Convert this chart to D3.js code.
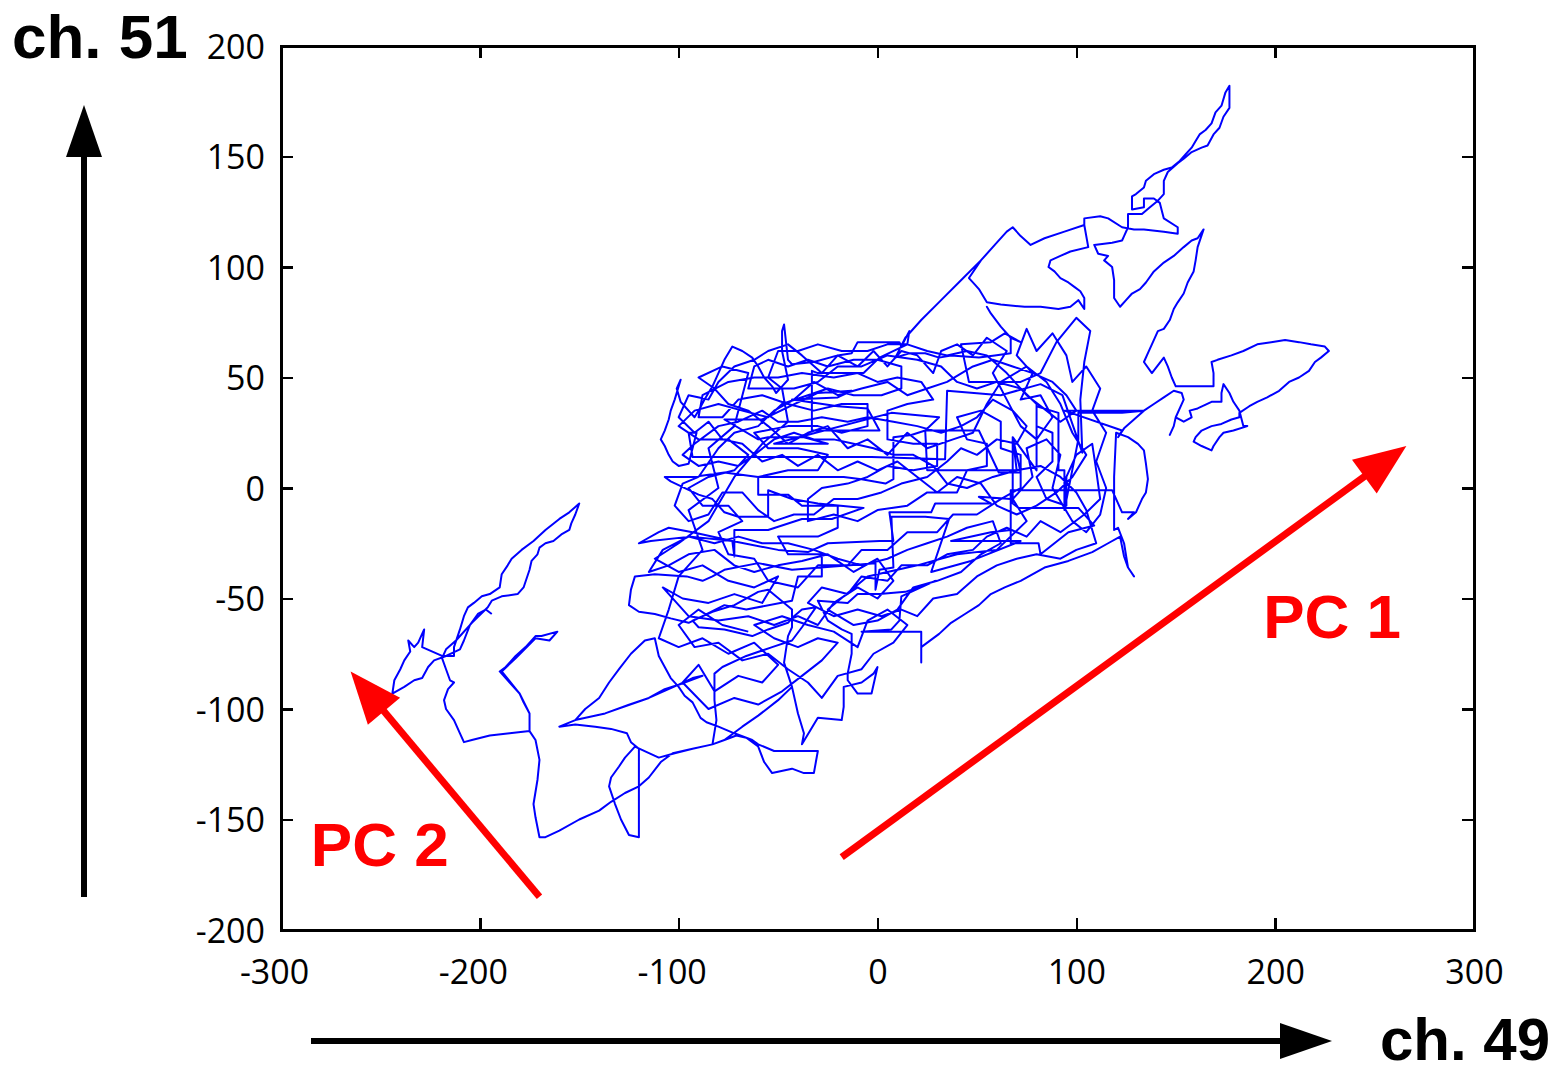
<!DOCTYPE html>
<html>
<head>
<meta charset="utf-8">
<script src="https://cdn.jsdelivr.net/npm/d3@7"></script>
<style>
  html, body { margin: 0; padding: 0; background: #ffffff; }
  svg { display: block; }
</style>
</head>
<body>
<svg id="chart" width="1567" height="1066"></svg>
<script>
// Axis ticks
const xTicks = [-300, -200, -100, 0, 100, 200, 300];
const yTicks = [-200, -150, -100, -50, 0, 50, 100, 150, 200];

// Channel labels
const xChannel = "ch. 49";
const yChannel = "ch. 51";

// Principal component directions, in channel units (tail -> head), with label anchors
const pcNames = ["PC 1", "PC 2"];
const pcFrom = [[-18, -167], [-170, -185]];
const pcTo = [[266, 19], [-265, -83]];
const pcLabelAt = [[194, -68], [-285, -171]];

// Trajectory of the two channel amplitudes (ch. 49, ch. 51)
const trajectory = [
  [-194,-57],[-197,-55],[-201,-57],[-205,-62],[-208,-69],[-210,-73],[-217,-76],[-223,-78],[-226,-81],[-229,-86],
  [-233,-87],[-238,-90],[-244,-93],[-243,-87],[-240,-82],[-238,-78],[-235,-74],[-236,-69],[-233,-72],[-231,-70],
  [-228,-64],[-229,-72],[-219,-76],[-213,-76],[-213,-72],[-210,-64],[-208,-58],[-206,-54],[-203,-52],[-199,-49],
  [-195,-48],[-190,-45],[-189,-39],[-186,-35],[-184,-32],[-179,-28],[-173,-24],[-167,-19],[-160,-14],[-155,-11],
  [-150,-7],[-152,-12],[-154,-16],[-155,-19],[-159,-21],[-163,-24],[-167,-25],[-170,-27],[-171,-30],[-174,-33],
  [-175,-37],[-178,-45],[-181,-48],[-189,-49],[-194,-51],[-196,-54],[-204,-61],[-212,-69],[-217,-73],[-219,-77],
  [-217,-82],[-215,-87],[-213,-88],[-216,-91],[-218,-96],[-217,-100],[-213,-105],[-210,-111],[-208,-115],[-204,-114],
  [-195,-112],[-185,-111],[-175,-110],[-175,-102],[-178,-97],[-180,-93],[-185,-88],[-190,-83],[-187,-81],[-182,-76],
  [-177,-72],[-172,-67],[-169,-67],[-161,-65],[-165,-69],[-172,-68],[-182,-77],[-189,-83],[-180,-93],[-175,-102],
  [-175,-110],
  [-172,-114],[-170,-123],[-171,-132],[-173,-143],[-172,-149],[-170,-158],[-167,-158],[-160,-155],[-150,-150],[-140,-146],
  [-134,-142],[-127,-138],[-120,-135],[-115,-131],[-109,-124],[-103,-120],[-93,-118],[-83,-116],[-77,-114],
  [-68,-108],[-60,-103],[-50,-96],[-43,-90],[-50,-96],[-60,-103],[-68,-108],[-77,-114],
  [-71,-112],[-66,-113],[-60,-117],[-57,-124],[-53,-129],[-43,-127],[-37,-129],[-32,-129],[-31,-124],[-30,-119],
  [-40,-119],[-52,-119],[-60,-116],[-63,-114],[-72,-111],[-80,-108],[-86,-106],[-89,-104],[-93,-97],[-97,-94],
  [-100,-90],[-104,-86],[-107,-81],[-110,-76],[-112,-68],[-117,-69],[-124,-75],[-130,-82],[-135,-88],[-140,-95],
  [-147,-100],[-152,-105],
  [-137,-102],[-125,-98],[-115,-95],[-107,-91],[-100,-89],[-93,-86],[-88,-85],[-100,-89],[-115,-95],[-137,-102],[-152,-105],
  [-160,-108],[-152,-107],[-142,-108],[-134,-109],[-126,-111],[-124,-115],[-120,-118],[-120,-137],[-120,-158],[-125,-157],
  [-129,-150],[-132,-143],[-135,-135],[-134,-131],[-130,-126],[-127,-122],[-122,-117],[-110,-122],[-102,-120],[-93,-118],
  [-83,-116],[-81,-105],[-82,-96],[-82,-84],
  [-78,-81],[-66,-76],[-53,-72],[-43,-69],[-38,-63],[-31,-54],[-38,-55],[-42,-58],[-45,-61],[-55,-64],
  [-63,-67],[-77,-64],[-90,-63],[-93,-60],[-83,-56],[-72,-53],[-60,-47],[-55,-46],[-43,-55],[-43,-63],
  [-45,-67],[-47,-79],[-43,-90],[-40,-102],[-37,-111],[-38,-116],[-30,-104],[-18,-105],[-17,-99],[-17,-90],
  [-8,-88],[-2,-84],[0,-81],[-3,-93],[-10,-93],[-15,-87],[-15,-84],[-13,-75],[-13,-66],[-18,-64],
  [-25,-60],[-30,-51],[-15,-52],[-10,-48],[1,-48],[14,-47],[24,-44],[29,-42],[12,-49],[11,-60],
  [7,-64],[-8,-65],[22,-65],[22,-79],[22,-72],[31,-66],[37,-61],[44,-57],[51,-53],[57,-48],
  [64,-45],[72,-42],[84,-36],[96,-33],[108,-29],[116,-25],[122,-22],[124,-31],[126,-36],[129,-40],
  [126,-36],[124,-25],[121,-18],
  [119,-19],[119,5],[120,25],[126,23],[131,20],[134,17],[135,11],[136,4],[135,-2],[133,-5],
  [130,-11],[126,-14],[129,-11],[123,-11],[118,-1],[94,-1],[67,-1],[67,-17],[67,-25],[81,-25],
  [82,-30],[96,-20],[109,-17],[101,-9],[71,-9],[68,-7],[68,23],[80,8],[80,37],[91,34],
  [91,8],[94,8],[94,-10],[101,22],[101,34],[123,34],[134,35],[94,35],[123,26],[121,23],
  [124,27],[129,31],[134,35],[139,38],[144,41],[149,44],[153,43],[154,40],[150,32],[149,28],
  [147,24],[149,28],[150,32],[154,30],[158,32],[157,35],[161,36],[168,39],[173,39],[173,43],
  [174,47],[177,43],[179,39],[182,35],[184,28],[186,28],[179,26],[174,25],[172,23],[169,19],
  [168,17],[163,19],[159,21],[160,23],[163,26],[168,28],[173,29],[178,31],[182,32],[182,34],
  [187,37],[191,39],[196,41],[202,44],[207,48],[212,50],[217,53],[220,57],[223,59],[227,62],
  [225,64],[218,65],[212,66],[205,67],[198,66],[191,65],[184,62],[178,60],[171,58],[168,57],
  [169,52],[169,48],[169,46],[154,46],[150,46],[148,50],[146,55],[144,59],[138,52],[134,57],
  [136,61],[138,65],[141,71],[144,72],[147,76],[149,81],[151,84],[154,88],[156,93],[159,98],
  [160,103],[161,109],[164,117],[161,113],[158,112],[154,109],[149,105],[144,102],[139,98],[135,93],
  [132,90],[128,88],[125,85],[122,82],
  [119,86],[119,94],[118,100],[114,103],[116,105],[111,106],[109,110],[118,111],[123,112],[124,114],
  [126,118],[126,124],[133,124],[137,127],[141,130],[144,133],[144,139],[146,143],[151,147],[154,149],
  [158,152],[163,154],[166,155],[169,160],[172,163],[174,168],[177,172],[177,182],[175,179],[173,173],
  [170,170],[168,165],[165,162],[162,160],[160,157],[158,154],[155,151],[152,148],[148,145],[144,144],
  [139,142],[135,139],[134,136],[130,133],[128,132],[128,126],[134,127],[134,131],[139,131],[142,129],
  [144,122],[151,118],[151,115],[144,116],[134,117],[129,117],[123,118],[116,122],[112,123],[104,122],
  [104,119],[106,109],[97,107],[92,105],[87,103],[86,100],[89,98],[92,95],[96,93],[99,91],
  [102,89],[104,86],[104,81],[101,85],[97,82],[91,81],[82,82],[74,82],[62,83],[55,84],
  [51,90],[49,92],[46,95],[52,103],[60,111],[65,116],[68,118],[72,114],[77,110],[84,113],
  [94,116],[104,119],[94,116],[84,113],[77,110],[72,114],[68,118],[65,116],[60,111],[52,103],
  [42,94],[32,85],[22,76],[14,68],
  [9,59],[16,61],[24,61],[31,59],[37,60],[51,59],[59,60],[67,61],[67,68],[62,73],
  [57,79],[55,82],[57,79],[62,73],[67,68],[72,66],[64,70],[57,66],[42,65],[46,48],
  [72,48],[82,52],[90,66],[100,77],[107,71],[104,57],[102,40],[103,16],[93,42],[82,47],
  [62,42],[35,44],[34,13],[-3,14],[-23,14],[-60,14],[-77,14],[-93,14],[-95,25],[-91,25],
  [-95,11],[-100,10],[-103,12],[-105,15],[-107,19],[-109,22],[-107,26],[-105,31],[-104,35],[-102,40],
  [-99,49],[-101,45],[-99,39],[-97,37],[-94,34],[-92,32],[-90,35],[-87,40],[-83,46],[-80,52],
  [-77,58],[-73,64],[-68,62],[-63,59],[-60,55],[-57,50],[-53,46],[-51,43],[-48,46],[-45,49],
  [-48,62],[-48,71],[-47,74],[-45,58],[-43,56],[-32,57],[-20,60],[-13,61],[-10,66],[11,66],
  [12,64],[16,71],[15,65],[1,59],[-7,52],[-30,52],[-33,53],[-33,26],[-17,26],[1,26],
  [-5,36],[-20,37],[-43,40],[-20,41],[-13,44],[-30,43],[-58,31],[-77,31],[-60,22],[-55,23],
  [-37,23],[-25,20],[-52,20],[7,34],[31,32],[24,26],[51,26],[61,7],[72,7],[68,23],
  [70,8],[25,8],[24,26],[17,24],[8,23],[8,4],[4,2],[-8,4],[-17,5],[-60,5],
  [-77,7],[-93,5],[-107,5],[-104,3],[-90,-3],[-83,-5],[-77,-11],[-70,-13],[-55,-13],[-55,-1],
  [-43,-5],[-30,-7],[-7,-9],[-23,-14],[-38,-14],[-55,-19],[-72,-19],[-72,-31],[-73,-24],[-93,-20],
  [-105,-18],[-110,-20],[-120,-25],[-114,-24],[-94,-22],[-73,-24],[-50,-28],[-35,-29],[-25,-25],[1,-24],
  [8,-24],[6,-11],[27,-11],[29,-7],[57,-7],[51,-4],[67,-5],[67,-19],[57,-20],[37,-24],
  [72,-24],[47,-33],[27,-38],[36,-14],[24,-13],[7,-13],[8,-36],[1,-37],[-1,-46],[-1,-34],
  [-43,-37],[-60,-34],[-77,-37],[-83,-40],[-88,-42],[-96,-40],[-112,-39],[-122,-40],[-124,-46],[-125,-53],
  [-120,-56],[-112,-57],[-104,-59],[-95,-61],[-88,-58],[-77,-53],[-66,-55],[-43,-51],
  [-40,-40],[-28,-40],[-28,-30],[-45,-30],[-50,-22],[-30,-22],[-20,-18],[-20,-8],[-38,-8],[-45,-3],
  [-60,-3],[-60,5],[-45,8],[-30,8],[-25,15],[-40,18],[-55,18],[-62,25],[-45,28],[-30,28],
  [-18,25],[-5,28],[-5,38],[-18,38],[-32,35],[-45,38],[-58,42],[-70,40],[-78,32],[-90,32],
  [-88,42],[-75,48],[-62,50],[-50,50],[-38,52],[-22,50],[-10,52],[0,48],[10,50],[22,48],
  [28,40],[15,38],[5,35],[5,22],[18,20],[30,20],[30,10],[18,8],[5,10],[-5,5],
  [-15,2],[-28,0],[-35,-5],[-35,-15],[-22,-12],[-10,-15],[0,-10],[15,-8],[25,-2],[40,-2],
  [45,8],[55,10],[55,20],[45,22],[40,32],[52,35],[62,30],[62,18],[72,15],[72,0],
  [62,-5],[50,-12],[38,-12],[30,-20],[15,-20],[5,-28],[-8,-28],[-15,-35],[-30,-35],[-40,-45],
  [-55,-42],[-62,-32],[-75,-30],[-80,-20],[-68,-15],[-75,-8],[-88,-8],[-95,0],[-85,5],[-72,8],
  [-65,15],[-75,22],[-90,22],[-100,28],[-92,35],[-80,38],[-68,35],[-55,32],[-48,38],[-35,42],
  [-25,45],[-12,42],[2,42],[12,45],[12,55],[0,58],[-12,58],[-25,55],[-35,58],[-45,55],
  [-55,58],[-62,55],[-65,45],[-55,45],[-42,45],[-30,48],[-20,55],[-8,55],[5,60],[20,58],
  [32,55],[40,48],[50,45],[60,48],[72,45],[80,38],[80,28],[88,25],[88,12],[80,5],
  [85,-5],[95,-8],[95,5],[100,15],[108,20],[110,8],[112,-5],[104,-12],[92,-20],[82,-15],
  [75,-22],[65,-18],[55,-22],[48,-28],[35,-30],[25,-35],[12,-35],[5,-42],[-8,-40],[-15,-48],
  [-28,-45],[-35,-52],[-22,-58],[-10,-55],[2,-58],[12,-55],[20,-58],[28,-50],[40,-48],[50,-40],
  [60,-35],[70,-32],[80,-30],[92,-32],[100,-28],[110,-25],[105,-10],[100,-2],[92,5],[82,10],
  [70,8],[58,5],[45,0],[35,2],[28,10],[18,15],[8,15],[-2,18],[-12,20],[-22,22],
  [-32,22],[-42,25],[-52,22],[-62,15],[-70,10],[-80,12],[-90,10],[-98,15],[-92,20],[-80,28],
  [-70,30],[-58,35],[-50,30],[-40,30],[-28,32],[-15,30],[-5,32],[8,30],[20,28],[32,25],
  [42,28],[50,32],[58,40],[68,35],[75,28],[70,20],[60,22],[50,15],[42,18],[35,12],
  [25,5],[12,2],[2,-2],[-10,-5],[-22,-5],[-32,-12],[-42,-12],[-52,-15],[-60,-10],[-68,-2],
  [-78,-2],[-85,-12],[-95,-15],[-102,-8],[-98,2],[-90,5],[-80,18],[-72,25],[-60,28],[-52,35],
  [-42,40],[-32,48],[-20,42],[-8,45],[5,48],[15,42],[25,45],[35,48],[48,55],[58,58],
  [68,55],[78,52],[88,48],[95,42],[100,35],[92,30],[85,35],[75,42],[65,52],[55,60],
  [45,62],[35,60],[25,62],[15,65],[5,65],[-5,62],[-18,62],[-30,65],[-40,62],[-50,62],
  [-55,50],[-48,45],
  [-45,30],[-58,20],[-72,5],[-85,-15],[-100,-25],[-112,-32],[-100,-38],[-88,-35],[-75,-42],[-62,-45],
  [-50,-40],[-58,-52],[-72,-48],[-85,-52],[-98,-50],[-108,-45],[-95,-58],[-80,-60],[-65,-58],[-52,-62],
  [-40,-58],[-30,-62],[-22,-52],[-10,-45],[0,-50],[8,-42],[0,-32],[-12,-38],[-25,-30],[-38,-33],
  [-50,-35],[-62,-38],[-72,-35],[-82,-28],[-95,-30],[-105,-35],[-115,-38],[-108,-28],[-95,-22],[-82,-25],
  [-70,-22],[-58,-25],[-45,-25],[-32,-28],[-20,-32],[-8,-35],[5,-32],[15,-28],[25,-25],[35,-22],
  [45,-18],[58,-15],[62,-25],[52,-30],[42,-38],[30,-42],[18,-45],[10,-55],[0,-60],[-12,-62],
  [-25,-55],[-5,-40],[20,-35],[40,-30],[60,-28],[75,-15],[68,-5],[78,5],[75,18],[85,22],
  [92,15],[88,0],[98,-15],[105,-20],[112,-12],[115,0],[110,12],[115,25],[108,35],[112,45],
  [105,55],[98,48],[95,60],[88,70],[80,62],[75,72],[70,60],[78,52],[72,40],[82,42],
  [88,32],[80,22],[72,28],[65,40],[58,52],[65,62],[55,68],[48,60],[40,65],[32,62],
  [28,52],[20,60],[12,62],[5,55],[-2,62],[-10,55],[-20,60],[-28,52],[-38,60],[-45,65],
  [-55,62],[-62,58],[-72,55],[-80,48],[-85,40],[-95,42],[-100,32],[-92,25],[-85,30],[-78,22],
  [-68,20],[-58,12],[-48,15],[-40,10],[-30,15],[-20,8],[-10,12],[0,8],[10,12],[20,5],
  [30,-2],[40,5],[52,2],[60,-8],[70,-12],[80,-8],[90,-2],[98,5],[105,15],[98,25],
  [92,38],[85,48],[75,55],[62,48],[55,38],[48,25],[38,22],[25,18],[15,25],[5,15],
  [-5,22],[-15,18],[-25,28],[-35,25],[-45,20],[-55,28],[-65,35],[-75,38],[-82,45],[-90,50],
  [-78,55],[-65,52],
  [-72,28],[-85,18],[-80,0],[-95,-10],[-88,-28],[-100,-40],[-105,-55],[-110,-68],[-100,-72],[-88,-68],
  [-75,-75],[-62,-70],[-50,-80],
  [-58,-88],[-70,-85],[-82,-92],[-90,-80],[-98,-88],[-85,-100],[-72,-95],[-60,-98],[-48,-92],[-38,-85],
  [-28,-78],[-20,-70],[-30,-68],[-40,-72],[-52,-68],[-62,-62],[-48,-58],[-35,-62],[-22,-65],[-10,-72],
  [-5,-60],[5,-55],[15,-62],[8,-70],[-2,-75],[-8,-82],[-20,-85],[-28,-95],[-35,-88],[-45,-82],
  [-55,-75],[-68,-78],[-80,-70],[-92,-72],[-100,-62],[-90,-55],[-78,-62],[-65,-65]
];

const plotLeft = 281, plotRight = 1474, plotTop = 46, plotBottom = 930;

const svg = d3.select("#chart");

const x = d3.scaleLinear().domain([-300, 300]).range([plotLeft, plotRight]);
const y = d3.scaleLinear().domain([-200, 200]).range([plotBottom, plotTop]);

const tickFont = "'Open Sans', 'DejaVu Sans', sans-serif";
const signed = d => (d < 0 ? "-" + Math.abs(d) : String(d));

// Axes with inward ticks on all four sides; labels only bottom and left
const gBottom = svg.append("g").attr("transform", `translate(0,${plotBottom})`)
  .call(d3.axisBottom(x).tickValues(xTicks).tickSizeInner(-12).tickSizeOuter(0).tickPadding(30)
        .tickFormat(signed));
const gLeft = svg.append("g").attr("transform", `translate(${plotLeft},0)`)
  .call(d3.axisLeft(y).tickValues(yTicks).tickSizeInner(-12).tickSizeOuter(0).tickPadding(16)
        .tickFormat(signed));
const gTop = svg.append("g").attr("transform", `translate(0,${plotTop})`)
  .call(d3.axisTop(x).tickValues(xTicks).tickSizeInner(-12).tickSizeOuter(0).tickFormat(() => ""));
const gRight = svg.append("g").attr("transform", `translate(${plotRight},0)`)
  .call(d3.axisRight(y).tickValues(yTicks).tickSizeInner(-12).tickSizeOuter(0).tickFormat(() => ""));

[gBottom, gLeft, gTop, gRight].forEach(g => {
  g.select(".domain").remove();
  g.selectAll(".tick line").attr("stroke", "#000").attr("stroke-width", 2.5)
    .attr("shape-rendering", "crispEdges");
});
[gTop, gRight].forEach(g => g.selectAll(".tick text").remove());
[gBottom, gLeft].forEach(g => {
  g.selectAll(".tick text")
    .attr("fill", "#000")
    .style("font-family", tickFont)
    .style("font-weight", 400)
    .style("font-size", "34px");
});
// minus sign hangs to the left of the centred digits
gBottom.selectAll(".tick text").attr("dx", d => (d < 0 ? -7 : 0));
gLeft.selectAll(".tick text").attr("dy", "0.36em");

// Plot frame
svg.append("rect")
  .attr("x", plotLeft).attr("y", plotTop)
  .attr("width", plotRight - plotLeft).attr("height", plotBottom - plotTop)
  .attr("fill", "none").attr("stroke", "#000").attr("stroke-width", 3)
  .attr("shape-rendering", "crispEdges");

// Trajectory
svg.append("clipPath").attr("id", "plotClip")
  .append("rect").attr("x", plotLeft).attr("y", plotTop)
  .attr("width", plotRight - plotLeft).attr("height", plotBottom - plotTop);

const line = d3.line().x(d => x(d[0])).y(d => y(d[1]));
svg.append("path")
  .datum(trajectory)
  .attr("clip-path", "url(#plotClip)")
  .attr("d", line)
  .attr("fill", "none")
  .attr("stroke", "#0000ff")
  .attr("stroke-width", 2)
  .attr("stroke-linejoin", "round");

// Arrow helper: shaft plus filled triangular head
function arrow(g, x1, y1, x2, y2, color, width, headLen, headHalf) {
  const dx = x2 - x1, dy = y2 - y1, len = Math.hypot(dx, dy);
  const ux = dx / len, uy = dy / len, px = -uy, py = ux;
  const bx = x2 - ux * headLen, by = y2 - uy * headLen;
  g.append("line")
    .attr("x1", x1).attr("y1", y1).attr("x2", bx + ux * 2).attr("y2", by + uy * 2)
    .attr("stroke", color).attr("stroke-width", width);
  g.append("path")
    .attr("d", `M${x2},${y2}L${bx + px * headHalf},${by + py * headHalf}L${bx - px * headHalf},${by - py * headHalf}Z`)
    .attr("fill", color);
}

// Channel direction arrows
const gAx = svg.append("g");
arrow(gAx, 84, 897, 84, 105, "#000", 6, 52, 18);
arrow(gAx, 311, 1041, 1332, 1041, "#000", 6, 52, 18);

svg.append("text").text(yChannel)
  .attr("x", 12).attr("y", 58)
  .style("font-family", "'Liberation Sans', Arial, sans-serif")
  .style("font-weight", 700).style("font-size", "62px").attr("fill", "#000");
svg.append("text").text(xChannel)
  .attr("x", 1380).attr("y", 1060)
  .style("font-family", "'Liberation Sans', Arial, sans-serif")
  .style("font-weight", 700).style("font-size", "60px").attr("fill", "#000");

// Principal component arrows
const gPc = svg.append("g");
pcNames.forEach((name, i) => {
  arrow(gPc, x(pcFrom[i][0]), y(pcFrom[i][1]), x(pcTo[i][0]), y(pcTo[i][1]), "#ff0000", 7, 52, 21);
  gPc.append("text").text(name)
    .attr("x", x(pcLabelAt[i][0])).attr("y", y(pcLabelAt[i][1]))
    .style("font-family", "'Liberation Sans', Arial, sans-serif")
    .style("font-weight", 700).style("font-size", "62px").attr("fill", "#ff0000");
});
</script>
</body>
</html>
